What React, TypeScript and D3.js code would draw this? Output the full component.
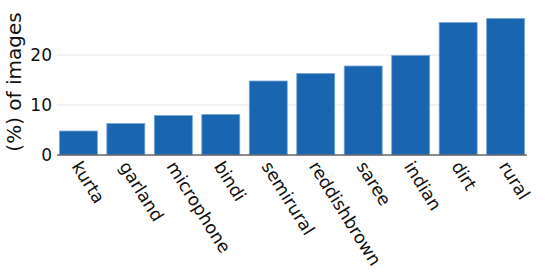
import React from "react";
import * as d3 from "d3";

const categories = ["kurta", "garland", "microphone", "bindi", "semirural", "reddishbrown", "saree", "indian", "dirt", "rural"];
const values = [4.8, 6.3, 7.9, 8.1, 14.8, 16.3, 17.8, 19.9, 26.5, 27.3];
const yTicks = [0, 10, 20];

export default function App() {
  const W = 555, H = 278;
  const x0 = 57, x1 = 527, yBase = 155, yTop = 5;
  const x = d3.scaleBand<string>().domain(categories).range([x0, x1]).paddingInner(0.2).paddingOuter(0.05);
  const y = d3.scaleLinear().domain([0, 30]).range([yBase, yTop]);
  const font = "DejaVu Sans, sans-serif";
  return (
    <svg width={W} height={H} style={{ position: "absolute", left: 0, top: 0, background: "#fff" }}>
      {yTicks.filter(t => t > 0).map(t => (
        <line key={"g" + t} x1={x0} x2={x1} y1={y(t)} y2={y(t)} stroke="#e6e6e6" strokeWidth={1} />
      ))}
      {categories.map((c, i) => (
        <rect key={c} x={x(c)!} y={y(values[i])} width={x.bandwidth()} height={yBase - y(values[i])}
          fill="#1a65b0" stroke="#7aa6d6" strokeWidth={0.8} />
      ))}
      <line x1={x0} x2={x1} y1={yBase} y2={yBase} stroke="#666" strokeWidth={1.5} />
      {yTicks.map(t => (
        <text key={"t" + t} x={52} y={y(t)} dy="0.35em" textAnchor="end" fontFamily={font} fontSize={17} fill="#111">{t}</text>
      ))}
      <text transform={`translate(21,${(yBase + yTop) / 2 + 2}) rotate(-90)`} textAnchor="middle" fontFamily={font} fontSize={20} fill="#111">(%) of images</text>
      {categories.map(c => {
        const cx = x(c)! + x.bandwidth() / 2 - 2;
        return (
          <text key={"l" + c} transform={`translate(${cx},${yBase + 8}) rotate(58)`} textAnchor="start" dy="0.35em"
            fontFamily={font} fontSize={17.5} fill="#111">{c}</text>
        );
      })}
    </svg>
  );
}
